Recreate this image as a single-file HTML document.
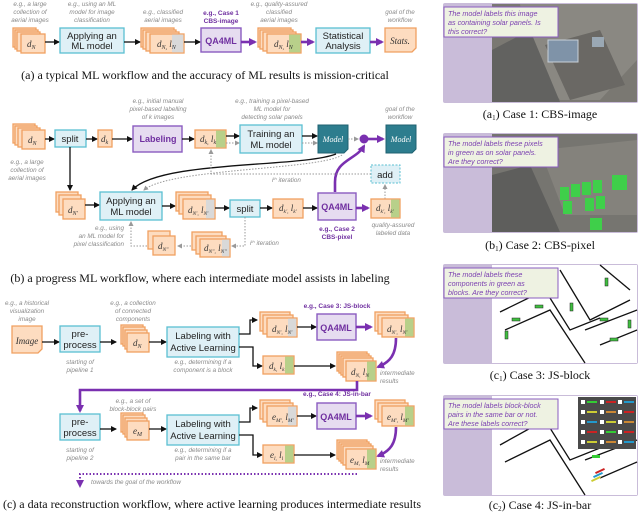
<!DOCTYPE html>
<html><head><meta charset="utf-8"><style>
html,body{margin:0;padding:0;background:#fff}
svg{display:block}
.an{font-family:"Liberation Sans",sans-serif;font-style:italic;font-size:6.3px;fill:#8a8a8a}
.bx{font-family:"Liberation Sans",sans-serif;font-size:9.5px;fill:#222}
.pl{font-family:"Liberation Sans",sans-serif;font-size:9px;fill:#7030a0;font-weight:bold}
.pc{font-family:"Liberation Sans",sans-serif;font-size:6.5px;fill:#7030a0;font-weight:bold}
.cap{font-family:"Liberation Serif",serif;font-size:12px;fill:#111}
.v{font-family:"Liberation Serif",serif;font-style:italic;font-size:9px;fill:#333}
.q{font-family:"Liberation Sans",sans-serif;font-style:italic;font-size:7.2px;fill:#7a3fb0}
.c{fill:#fddcc0;stroke:#f0a060;stroke-width:1.3}
.b{fill:#dff0f6;stroke:#5bbfd2;stroke-width:1.3}
.p{fill:#e6dcf0;stroke:#8a5cc0;stroke-width:1.4}
.k{stroke:#111;stroke-width:1.3;fill:none}
.pu{stroke:#7a30b0;stroke-width:2.6;fill:none}
.g{stroke:#999;stroke-width:1;fill:none;stroke-dasharray:1.5 1.5}
</style></head><body>
<svg width="640" height="514" viewBox="0 0 640 514" xmlns="http://www.w3.org/2000/svg">
<defs>
<marker id="ak" markerWidth="6" markerHeight="6" refX="5" refY="3" orient="auto" markerUnits="userSpaceOnUse"><path d="M0,0L6,3L0,6z" fill="#111"/></marker>
<marker id="ap" markerWidth="8" markerHeight="8" refX="6" refY="4" orient="auto" markerUnits="userSpaceOnUse"><path d="M0,0L8,4L0,8z" fill="#7a30b0"/></marker>
<marker id="ag" markerWidth="5" markerHeight="5" refX="4" refY="2.5" orient="auto" markerUnits="userSpaceOnUse"><path d="M0,0L5,2.5L0,5z" fill="#999"/></marker>
</defs>

<!-- ===== (a) ===== -->
<text class="an" text-anchor="middle"><tspan x="30" y="6">e.g., a large</tspan><tspan x="30" y="14">collection of</tspan><tspan x="30" y="22">aerial images</tspan></text>
<text class="an" text-anchor="middle"><tspan x="92" y="6">e.g., using an ML</tspan><tspan x="92" y="14">model for image</tspan><tspan x="92" y="22">classification</tspan></text>
<text class="an" text-anchor="middle"><tspan x="163" y="14">e.g., classified</tspan><tspan x="163" y="22">aerial images</tspan></text>
<text class="pc" text-anchor="middle"><tspan x="221" y="15">e.g., Case 1</tspan><tspan x="221" y="23">CBS-image</tspan></text>
<text class="an" text-anchor="middle"><tspan x="279" y="6">e.g., quality-assured</tspan><tspan x="279" y="14">classified</tspan><tspan x="279" y="22">aerial images</tspan></text>
<text class="an" text-anchor="middle"><tspan x="400" y="14">goal of the</tspan><tspan x="400" y="22">workflow</tspan></text>

<rect class="c" x="13" y="28" width="23" height="19"/><rect class="c" x="15" y="30" width="23" height="19"/><rect class="c" x="17" y="32" width="23" height="19"/><rect class="c" x="21" y="34" width="24" height="19"/>
<text class="v" x="27" y="47">d<tspan font-size="6" dy="2">N</tspan></text>
<line class="k" x1="45" y1="42" x2="59" y2="42" marker-end="url(#ak)"/>
<rect class="b" x="60" y="28" width="64" height="25"/>
<text class="bx" text-anchor="middle"><tspan x="92" y="39">Applying an</tspan><tspan x="92" y="49">ML model</tspan></text>
<line class="k" x1="124" y1="42" x2="140" y2="42" marker-end="url(#ak)"/>
<rect class="c" x="141" y="28" width="33" height="19"/><rect class="c" x="143" y="30" width="33" height="19"/><rect class="c" x="146" y="32" width="33" height="19"/><rect class="c" x="150" y="34" width="34" height="19"/><rect x="172" y="34.6" width="11.4" height="17.8" fill="#d9d9d9"/>
<text class="v" x="157" y="47">d<tspan font-size="6" dy="2">N,</tspan><tspan dy="-2"> l</tspan><tspan font-size="6" dy="2">N</tspan></text>
<line class="k" x1="184" y1="42" x2="200" y2="42" marker-end="url(#ak)"/>
<rect class="p" x="201" y="28" width="40" height="24"/>
<text class="pl" x="221" y="44" text-anchor="middle">QA4ML</text>
<line class="pu" x1="241" y1="42" x2="255" y2="42" marker-end="url(#ap)"/>
<rect class="c" x="258" y="28" width="33" height="19"/><rect class="c" x="260" y="30" width="33" height="19"/><rect class="c" x="263" y="32" width="33" height="19"/><rect class="c" x="267" y="34" width="34" height="19"/><rect x="289" y="34.6" width="11.4" height="17.8" fill="#b8d08a"/>
<text class="v" x="274" y="47">d<tspan font-size="6" dy="2">N,</tspan><tspan dy="-2"> l</tspan><tspan font-size="6" dy="2">N</tspan></text>
<line class="pu" x1="301" y1="42" x2="313" y2="42" marker-end="url(#ap)"/>
<rect class="b" x="316" y="28" width="54" height="25"/>
<text class="bx" text-anchor="middle"><tspan x="343" y="39">Statistical</tspan><tspan x="343" y="49">Analysis</tspan></text>
<line class="pu" x1="370" y1="42" x2="382" y2="42" marker-end="url(#ap)"/>
<path d="M385,28H416V48L412,52H385Z" class="c"/>
<text class="v" x="400" y="44" text-anchor="middle" font-size="8">Stats.</text>
<text class="cap" x="205" y="79" text-anchor="middle">(a) a typical ML workflow and the accuracy of ML results is mission-critical</text>

<!-- ===== (b) ===== -->
<text class="an" text-anchor="middle"><tspan x="158" y="103">e.g., initial manual</tspan><tspan x="158" y="111">pixel-based labelling</tspan><tspan x="158" y="119">of k images</tspan></text>
<text class="an" text-anchor="middle"><tspan x="272" y="103">e.g., training a pixel-based</tspan><tspan x="272" y="111">ML model for</tspan><tspan x="272" y="119">detecting solar panels</tspan></text>
<text class="an" text-anchor="middle"><tspan x="400" y="111">goal of the</tspan><tspan x="400" y="119">workflow</tspan></text>

<rect class="c" x="13" y="124" width="22" height="19"/><rect class="c" x="15" y="126" width="22" height="19"/><rect class="c" x="18" y="128" width="22" height="19"/><rect class="c" x="22" y="130" width="23" height="19"/>
<text class="v" x="28" y="143">d<tspan font-size="6" dy="2">N</tspan></text>
<text class="an" text-anchor="middle"><tspan x="27" y="164">e.g., a large</tspan><tspan x="27" y="172">collection of</tspan><tspan x="27" y="180">aerial images</tspan></text>
<line class="k" x1="45" y1="139" x2="54" y2="139" marker-end="url(#ak)"/>
<rect class="b" x="55" y="130" width="31" height="17"/>
<text class="bx" x="70" y="142" text-anchor="middle">split</text>
<line class="k" x1="86" y1="139" x2="97" y2="139" marker-end="url(#ak)"/>
<rect class="c" x="98" y="130" width="14" height="17"/>
<text class="v" x="101" y="142">d<tspan font-size="6" dy="2">k</tspan></text>
<line class="k" x1="112" y1="139" x2="132" y2="139" marker-end="url(#ak)"/>
<rect class="p" x="133" y="126" width="49" height="26"/>
<text class="pl" x="158" y="142" text-anchor="middle">Labeling</text>
<line class="k" x1="182" y1="139" x2="194" y2="139" marker-end="url(#ak)"/>
<rect class="c" x="195" y="130" width="31" height="18"/><rect x="216" y="130.6" width="9.4" height="16.8" fill="#b8d08a"/>
<text class="v" x="200" y="142">d<tspan font-size="6" dy="2">k,</tspan><tspan dy="-2"> l</tspan><tspan font-size="6" dy="2">k</tspan></text>
<line class="k" x1="226" y1="136" x2="239" y2="136" marker-end="url(#ak)"/>
<line class="g" x1="226" y1="143" x2="239" y2="143" marker-end="url(#ag)"/>
<rect class="b" x="240" y="125" width="62" height="28"/>
<text class="bx" text-anchor="middle"><tspan x="271" y="137">Training an</tspan><tspan x="271" y="148">ML model</tspan></text>
<line class="k" x1="302" y1="136" x2="317" y2="136" marker-end="url(#ak)"/>
<line class="g" x1="302" y1="143" x2="317" y2="143" marker-end="url(#ag)"/>
<path d="M318,125H348V149L344,153H318Z" fill="#2d7d8e" stroke="#1f6170"/>
<text x="333" y="142" text-anchor="middle" font-family="Liberation Serif,serif" font-style="italic" font-size="8" fill="#fff">Model</text>
<line class="g" x1="348" y1="139" x2="358" y2="139" marker-end="url(#ag)"/>
<circle cx="364" cy="139" r="4.5" fill="#7a30b0"/>
<line class="pu" x1="368" y1="139" x2="383" y2="139" marker-end="url(#ap)"/>
<path d="M386,125H416V149L412,153H386Z" fill="#2d7d8e" stroke="#1f6170"/>
<text x="401" y="142" text-anchor="middle" font-family="Liberation Serif,serif" font-style="italic" font-size="8" fill="#fff">Model</text>
<path d="M336,154C300,168 160,160 132,190" class="k" stroke-width="1.4" marker-end="url(#ak)"/>
<path d="M342,155C320,170 170,168 144,190" class="g" marker-end="url(#ag)"/>
<path d="M335,192V182C335,160 356,160 364,146" class="pu" marker-end="url(#ap)"/>
<rect x="371" y="165" width="29" height="18" fill="#dff0f6" stroke="#5bbfd2" stroke-dasharray="2 1.5"/>
<text class="bx" x="385" y="178" text-anchor="middle">add</text>
<path d="M371,174H211V150" class="g" marker-end="url(#ag)"/>
<text class="an" x="272" y="182">i<tspan font-size="4" dy="-2">th</tspan><tspan dy="2"> iteration</tspan></text>
<line class="g" x1="385" y1="199" x2="385" y2="185" marker-end="url(#ag)"/>
<line class="k" x1="70" y1="147" x2="70" y2="190" marker-end="url(#ak)"/>

<rect class="c" x="56" y="192" width="22" height="20"/><rect class="c" x="59" y="195" width="22" height="20"/><rect class="c" x="63" y="199" width="22" height="20"/>
<text class="v" x="68" y="213">d<tspan font-size="6" dy="2">N'</tspan></text>
<line class="k" x1="85" y1="205" x2="99" y2="205" marker-end="url(#ak)"/>
<rect class="b" x="100" y="192" width="62" height="28"/>
<text class="bx" text-anchor="middle"><tspan x="131" y="204">Applying an</tspan><tspan x="131" y="215">ML model</tspan></text>
<text class="an" text-anchor="end"><tspan x="124" y="230">e.g., using</tspan><tspan x="124" y="238">an ML model for</tspan><tspan x="124" y="246">pixel classification</tspan></text>
<line class="k" x1="162" y1="206" x2="175" y2="206" marker-end="url(#ak)"/>
<rect class="c" x="176" y="192" width="32" height="19"/><rect class="c" x="179" y="195" width="32" height="19"/><rect class="c" x="183" y="199" width="32" height="20"/><rect x="206" y="199.6" width="8.4" height="18.8" fill="#d9d9d9"/>
<text class="v" x="188" y="213" font-size="8">d<tspan font-size="5.5" dy="2">N',</tspan><tspan dy="-2"> l</tspan><tspan font-size="5.5" dy="2">N'</tspan></text>
<line class="k" x1="215" y1="208" x2="229" y2="208" marker-end="url(#ak)"/>
<rect class="b" x="230" y="200" width="30" height="17"/>
<text class="bx" x="245" y="212" text-anchor="middle">split</text>
<line class="k" x1="260" y1="208" x2="272" y2="208" marker-end="url(#ak)"/>
<rect class="c" x="273" y="199" width="30" height="19"/>
<text class="v" x="279" y="211" font-size="8">d<tspan font-size="5.5" dy="2">k',</tspan><tspan dy="-2"> l</tspan><tspan font-size="5.5" dy="2">k'</tspan></text>
<line class="k" x1="303" y1="208" x2="317" y2="208" marker-end="url(#ak)"/>
<rect class="p" x="318" y="193" width="38" height="27"/>
<text class="pl" x="337" y="210" text-anchor="middle">QA4ML</text>
<line class="pu" x1="356" y1="208" x2="368" y2="208" marker-end="url(#ap)"/>
<rect class="c" x="371" y="199" width="29" height="19"/><rect x="391" y="199.6" width="8.4" height="17.8" fill="#b8d08a"/>
<text class="v" x="376" y="211" font-size="8">d<tspan font-size="5.5" dy="2">k',</tspan><tspan dy="-2"> l</tspan><tspan font-size="5.5" dy="2">k'</tspan></text>
<text class="pc" text-anchor="middle"><tspan x="337" y="231">e.g., Case 2</tspan><tspan x="337" y="239">CBS-pixel</tspan></text>
<text class="an" text-anchor="middle"><tspan x="393" y="227">quality-assured</tspan><tspan x="393" y="235">labeled data</tspan></text>
<path d="M245,217V246H232" class="g" marker-end="url(#ag)"/>
<text class="an" x="250" y="245">i<tspan font-size="4" dy="-2">th</tspan><tspan dy="2"> iteration</tspan></text>
<rect class="c" x="192" y="232" width="30" height="18"/><rect class="c" x="196" y="236" width="30" height="18"/><rect class="c" x="200" y="239" width="30" height="18"/><rect x="222" y="239.6" width="7.4" height="16.8" fill="#d9d9d9"/>
<text class="v" x="204" y="251" font-size="8">d<tspan font-size="5.5" dy="2">N",</tspan><tspan dy="-2"> l</tspan><tspan font-size="5.5" dy="2">N"</tspan></text>
<line class="g" x1="191" y1="246" x2="178" y2="246" marker-end="url(#ag)"/>
<rect class="c" x="148" y="231" width="22" height="18"/><rect class="c" x="153" y="236" width="22" height="19"/>
<text class="v" x="158" y="249" font-size="8">d<tspan font-size="5.5" dy="2">N"</tspan></text>
<path d="M147,246H131V222" class="g" marker-end="url(#ag)"/>
<text class="cap" x="200" y="282" text-anchor="middle">(b) a progress ML workflow, where each intermediate model assists in labeling</text>

<!-- ===== (c) ===== -->
<text class="an" text-anchor="middle"><tspan x="27" y="305">e.g., a historical</tspan><tspan x="27" y="313">visualization</tspan><tspan x="27" y="321">image</tspan></text>
<text class="an" text-anchor="middle"><tspan x="133" y="305">e.g., a collection</tspan><tspan x="133" y="313">of connected</tspan><tspan x="133" y="321">components</tspan></text>
<text class="pc" x="337" y="308" text-anchor="middle">e.g., Case 3: JS-block</text>
<path d="M12,326H42V349L38,353H12Z" class="c"/>
<text class="v" x="27" y="344" text-anchor="middle" font-size="8.5">Image</text>
<line class="k" x1="42" y1="342" x2="59" y2="342" marker-end="url(#ak)"/>
<rect class="b" x="60" y="326" width="40" height="26"/>
<text class="bx" text-anchor="middle"><tspan x="80" y="337">pre-</tspan><tspan x="80" y="348">process</tspan></text>
<text class="an" text-anchor="middle"><tspan x="80" y="364">starting of</tspan><tspan x="80" y="372">pipeline 1</tspan></text>
<line class="k" x1="100" y1="342" x2="116" y2="342" marker-end="url(#ak)"/>
<rect class="c" x="121" y="325" width="22" height="19"/><rect class="c" x="123" y="327" width="22" height="19"/><rect class="c" x="125" y="330" width="22" height="19"/><rect class="c" x="127" y="333" width="22" height="19"/>
<text class="v" x="133" y="346">d<tspan font-size="6" dy="2">N</tspan></text>
<line class="k" x1="149" y1="342" x2="166" y2="342" marker-end="url(#ak)"/>
<rect class="b" x="167" y="327" width="72" height="30"/>
<text class="bx" text-anchor="middle"><tspan x="203" y="339">Labeling with</tspan><tspan x="203" y="351">Active Learning</tspan></text>
<text class="an" text-anchor="middle"><tspan x="203" y="364">e.g., determining if a</tspan><tspan x="203" y="372">component is a block</tspan></text>
<path d="M239,334H250V320H257" class="k" marker-end="url(#ak)"/>
<path d="M239,347H253V366H262" class="k" marker-end="url(#ak)"/>
<rect class="c" x="260" y="312" width="30" height="19"/><rect class="c" x="263" y="315" width="30" height="19"/><rect class="c" x="267" y="318" width="30" height="19"/><rect x="288" y="318.6" width="8.4" height="17.8" fill="#d9d9d9"/>
<text class="v" x="272" y="332" font-size="8">d<tspan font-size="5.5" dy="2">N',</tspan><tspan dy="-2"> l</tspan><tspan font-size="5.5" dy="2">N'</tspan></text>
<line class="k" x1="297" y1="327" x2="316" y2="327" marker-end="url(#ak)"/>
<rect class="p" x="317" y="314" width="39" height="26"/>
<text class="pl" x="336" y="331" text-anchor="middle">QA4ML</text>
<line class="pu" x1="356" y1="327" x2="371" y2="327" marker-end="url(#ap)"/>
<rect class="c" x="375" y="312" width="30" height="19"/><rect class="c" x="378" y="315" width="30" height="19"/><rect class="c" x="382" y="318" width="32" height="19"/><rect x="405" y="318.6" width="8.4" height="17.8" fill="#b8d08a"/>
<text class="v" x="387" y="332" font-size="8">d<tspan font-size="5.5" dy="2">N',</tspan><tspan dy="-2"> l</tspan><tspan font-size="5.5" dy="2">N'</tspan></text>
<path d="M396,338C396,355 390,362 378,367" class="pu" stroke-width="2" marker-end="url(#ap)"/>
<rect class="c" x="263" y="356" width="31" height="18"/><rect x="285" y="356.6" width="8.4" height="16.8" fill="#b8d08a"/>
<text class="v" x="269" y="369" font-size="8">d<tspan font-size="5.5" dy="2">k,</tspan><tspan dy="-2"> l</tspan><tspan font-size="5.5" dy="2">k</tspan></text>
<line class="k" x1="294" y1="366" x2="335" y2="366" marker-end="url(#ak)"/>
<rect class="c" x="337" y="352" width="30" height="19"/><rect class="c" x="339" y="354" width="30" height="19"/><rect class="c" x="341" y="356" width="30" height="19"/><rect class="c" x="343" y="358" width="30" height="19"/><rect class="c" x="346" y="361" width="30" height="20"/><rect x="367" y="361.6" width="8.4" height="18.8" fill="#b8d08a"/>
<text class="v" x="351" y="375" font-size="8.5">d<tspan font-size="5.5" dy="2">N,</tspan><tspan dy="-2"> l</tspan><tspan font-size="5.5" dy="2">N</tspan></text>
<text class="an"><tspan x="380" y="375">intermediate</tspan><tspan x="380" y="383">results</tspan></text>
<path d="M357,381V390H80V411" class="pu" stroke-width="2" marker-end="url(#ap)"/>

<text class="pc" x="337" y="396" text-anchor="middle">e.g., Case 4: JS-in-bar</text>
<text class="an" text-anchor="middle"><tspan x="133" y="403">e.g., a set of</tspan><tspan x="133" y="411">block-block pairs</tspan></text>
<rect class="b" x="60" y="414" width="40" height="26"/>
<text class="bx" text-anchor="middle"><tspan x="80" y="425">pre-</tspan><tspan x="80" y="436">process</tspan></text>
<text class="an" text-anchor="middle"><tspan x="80" y="452">starting of</tspan><tspan x="80" y="460">pipeline 2</tspan></text>
<line class="k" x1="100" y1="429" x2="116" y2="429" marker-end="url(#ak)"/>
<rect class="c" x="121" y="413" width="22" height="19"/><rect class="c" x="123" y="415" width="22" height="19"/><rect class="c" x="125" y="418" width="22" height="19"/><rect class="c" x="127" y="421" width="22" height="19"/>
<text class="v" x="133" y="434">e<tspan font-size="6" dy="2">M</tspan></text>
<line class="k" x1="149" y1="429" x2="166" y2="429" marker-end="url(#ak)"/>
<rect class="b" x="167" y="415" width="72" height="30"/>
<text class="bx" text-anchor="middle"><tspan x="203" y="427">Labeling with</tspan><tspan x="203" y="439">Active Learning</tspan></text>
<text class="an" text-anchor="middle"><tspan x="203" y="452">e.g., determining if a</tspan><tspan x="203" y="460">pair in the same bar</tspan></text>
<path d="M239,422H250V408H257" class="k" marker-end="url(#ak)"/>
<path d="M239,435H253V455H262" class="k" marker-end="url(#ak)"/>
<rect class="c" x="260" y="400" width="30" height="19"/><rect class="c" x="263" y="403" width="30" height="19"/><rect class="c" x="267" y="406" width="30" height="20"/><rect x="288" y="406.6" width="8.4" height="18.8" fill="#d9d9d9"/>
<text class="v" x="272" y="420" font-size="8">e<tspan font-size="5.5" dy="2">M',</tspan><tspan dy="-2"> l</tspan><tspan font-size="5.5" dy="2">M'</tspan></text>
<line class="k" x1="297" y1="416" x2="316" y2="416" marker-end="url(#ak)"/>
<rect class="p" x="317" y="403" width="39" height="26"/>
<text class="pl" x="336" y="420" text-anchor="middle">QA4ML</text>
<line class="pu" x1="356" y1="416" x2="371" y2="416" marker-end="url(#ap)"/>
<rect class="c" x="375" y="400" width="30" height="19"/><rect class="c" x="378" y="403" width="30" height="19"/><rect class="c" x="382" y="406" width="32" height="20"/><rect x="405" y="406.6" width="8.4" height="18.8" fill="#b8d08a"/>
<text class="v" x="387" y="420" font-size="8">e<tspan font-size="5.5" dy="2">M',</tspan><tspan dy="-2"> l</tspan><tspan font-size="5.5" dy="2">M'</tspan></text>
<path d="M396,427C396,444 390,451 378,456" class="pu" stroke-width="2" marker-end="url(#ap)"/>
<rect class="c" x="263" y="445" width="31" height="18"/><rect x="285" y="445.6" width="8.4" height="16.8" fill="#b8d08a"/>
<text class="v" x="270" y="458" font-size="8">e<tspan font-size="5.5" dy="2">l,</tspan><tspan dy="-2"> l</tspan><tspan font-size="5.5" dy="2">l</tspan></text>
<line class="k" x1="294" y1="455" x2="335" y2="455" marker-end="url(#ak)"/>
<rect class="c" x="337" y="440" width="30" height="19"/><rect class="c" x="339" y="442" width="30" height="19"/><rect class="c" x="341" y="444" width="30" height="19"/><rect class="c" x="343" y="446" width="30" height="19"/><rect class="c" x="346" y="449" width="30" height="20"/><rect x="367" y="449.6" width="8.4" height="18.8" fill="#b8d08a"/>
<text class="v" x="350" y="463" font-size="8.5">e<tspan font-size="5.5" dy="2">M,</tspan><tspan dy="-2"> l</tspan><tspan font-size="5.5" dy="2">M</tspan></text>
<text class="an"><tspan x="380" y="463">intermediate</tspan><tspan x="380" y="471">results</tspan></text>
<path d="M357,474H80V486" stroke="#7a30b0" stroke-width="2" fill="none" stroke-dasharray="1.5 2" marker-end="url(#ap)"/>
<text class="an" x="91" y="484">towards the goal of the workflow</text>
<text class="cap" x="212" y="508" text-anchor="middle" font-size="11.8">(c) a data reconstruction workflow, where active learning produces intermediate results</text>

<!-- ===== right panels ===== -->
<rect x="443" y="3" width="195" height="100" rx="2" fill="#c9bcd9"/>
<rect x="492" y="4" width="145" height="98" fill="#7a7872"/>
<path d="M520,4L637,4L637,60L600,100L560,100L530,60Z" fill="#8a8882"/>
<path d="M545,45L600,30L625,85L570,100Z" fill="#6a6864"/>
<rect x="548" y="40" width="30" height="22" fill="#7f93a8" stroke="#c8d0d8" stroke-width="1"/>
<rect x="592" y="37" width="12" height="10" fill="#9aa8b4"/>
<path d="M492,50L530,30L560,102L492,102Z" fill="#626260"/>
<rect x="444" y="7" width="114" height="30" fill="#eef2e2" stroke="#8a5cc0" stroke-width="1"/>
<text class="q"><tspan x="448" y="16">The model labels this image</tspan><tspan x="448" y="25">as containing solar panels. Is</tspan><tspan x="448" y="34">this correct?</tspan></text>
<text class="cap" x="540" y="118" text-anchor="middle">(a<tspan font-size="7" dy="2">1</tspan><tspan dy="-2">) Case 1: CBS-image</tspan></text>

<rect x="443" y="133" width="195" height="100" rx="2" fill="#c9bcd9"/>
<rect x="492" y="134" width="145" height="98" fill="#767570"/>
<path d="M540,150L637,140L637,215L565,215Z" fill="#84827c"/>
<path d="M492,175L530,165L560,232L492,232Z" fill="#5e5e5c"/>
<g fill="#3fcf4a"><rect x="560" y="187" width="9" height="13"/><rect x="571" y="184" width="9" height="13"/><rect x="582" y="182" width="9" height="13"/><rect x="593" y="180" width="9" height="13"/><rect x="563" y="201" width="9" height="13"/><rect x="585" y="198" width="9" height="13"/><rect x="596" y="196" width="9" height="13"/><rect x="612" y="175" width="15" height="15"/><rect x="590" y="218" width="12" height="12"/></g>
<rect x="444" y="137" width="114" height="30" fill="#eef2e2" stroke="#8a5cc0" stroke-width="1"/>
<text class="q"><tspan x="448" y="146">The model labels these pixels</tspan><tspan x="448" y="155">in green as on solar panels.</tspan><tspan x="448" y="164">Are they correct?</tspan></text>
<text class="cap" x="540" y="249" text-anchor="middle">(b<tspan font-size="7" dy="2">1</tspan><tspan dy="-2">) Case 2: CBS-pixel</tspan></text>

<rect x="443" y="264" width="195" height="100" rx="2" fill="#c9bcd9"/>
<rect x="492" y="265" width="145" height="98" fill="#fff"/>
<g stroke="#111" stroke-width="1.3" fill="none"><path d="M500,312L545,290L570,330L600,318"/><path d="M505,330L550,310L585,363"/><path d="M560,270L590,320L630,300"/><path d="M600,265L630,290"/><path d="M585,330L637,310"/><path d="M600,345L637,330"/></g>
<g fill="#3fbf3f" stroke="#222" stroke-width=".5"><rect x="512" y="318" width="8" height="3"/><rect x="535" y="305" width="8" height="3"/><rect x="570" y="303" width="3" height="8"/><rect x="600" y="318" width="8" height="3"/><rect x="610" y="338" width="8" height="3"/><rect x="628" y="320" width="3" height="8"/><rect x="505" y="331" width="3" height="8"/><rect x="605" y="278" width="3" height="8"/></g>
<rect x="444" y="268" width="114" height="30" fill="#eef2e2" stroke="#8a5cc0" stroke-width="1"/>
<text class="q"><tspan x="448" y="277">The model labels these</tspan><tspan x="448" y="286">components in green as</tspan><tspan x="448" y="295">blocks. Are they correct?</tspan></text>
<text class="cap" x="540" y="379" text-anchor="middle">(c<tspan font-size="7" dy="2">1</tspan><tspan dy="-2">) Case 3: JS-block</tspan></text>

<rect x="443" y="395" width="195" height="101" rx="2" fill="#c9bcd9"/>
<rect x="492" y="396" width="145" height="99" fill="#fff"/>
<g stroke="#111" stroke-width="1.3" fill="none"><path d="M500,445L545,420L570,460L600,448"/><path d="M505,462L550,440L585,495"/><path d="M585,460L637,440"/><path d="M600,478L637,462"/></g>
<rect x="578" y="397" width="58" height="52" fill="#4a4a4a"/>
<g fill="#fff"><rect x="581" y="400" width="4" height="4"/><rect x="600" y="400" width="4" height="4"/><rect x="618" y="400" width="4" height="4"/><rect x="581" y="410" width="4" height="4"/><rect x="600" y="410" width="4" height="4"/><rect x="618" y="410" width="4" height="4"/><rect x="581" y="420" width="4" height="4"/><rect x="600" y="420" width="4" height="4"/><rect x="618" y="420" width="4" height="4"/><rect x="581" y="430" width="4" height="4"/><rect x="600" y="430" width="4" height="4"/><rect x="618" y="430" width="4" height="4"/><rect x="581" y="440" width="4" height="4"/><rect x="600" y="440" width="4" height="4"/><rect x="618" y="440" width="4" height="4"/></g>
<g><rect x="587" y="401" width="10" height="2" fill="#3c3"/><rect x="606" y="401" width="10" height="2" fill="#c22"/><rect x="624" y="401" width="10" height="2" fill="#29c"/><rect x="587" y="411" width="10" height="2" fill="#cc3"/><rect x="606" y="411" width="10" height="2" fill="#c83"/><rect x="624" y="411" width="10" height="2" fill="#c22"/><rect x="587" y="421" width="10" height="2" fill="#29c"/><rect x="606" y="421" width="10" height="2" fill="#cc3"/><rect x="624" y="421" width="10" height="2" fill="#c83"/><rect x="587" y="431" width="10" height="2" fill="#c22"/><rect x="606" y="431" width="10" height="2" fill="#3c3"/><rect x="624" y="431" width="10" height="2" fill="#c22"/><rect x="587" y="441" width="10" height="2" fill="#cc3"/><rect x="606" y="441" width="10" height="2" fill="#c83"/><rect x="624" y="441" width="10" height="2" fill="#29c"/></g>
<g><rect x="595" y="470" width="10" height="2" fill="#c22" transform="rotate(-25 600 471)"/><rect x="593" y="474" width="10" height="2" fill="#29c" transform="rotate(-25 598 475)"/><rect x="591" y="478" width="10" height="2" fill="#cc3" transform="rotate(-25 596 479)"/><rect x="592" y="455" width="8" height="3" fill="#3c3"/></g>
<rect x="444" y="399" width="114" height="30" fill="#eef2e2" stroke="#8a5cc0" stroke-width="1"/>
<text class="q"><tspan x="448" y="408">The model labels block-block</tspan><tspan x="448" y="417">pairs in the same bar or not.</tspan><tspan x="448" y="426">Are these labels correct?</tspan></text>
<text class="cap" x="540" y="509" text-anchor="middle">(c<tspan font-size="7" dy="2">2</tspan><tspan dy="-2">) Case 4: JS-in-bar</tspan></text>
</svg>
</body></html>
